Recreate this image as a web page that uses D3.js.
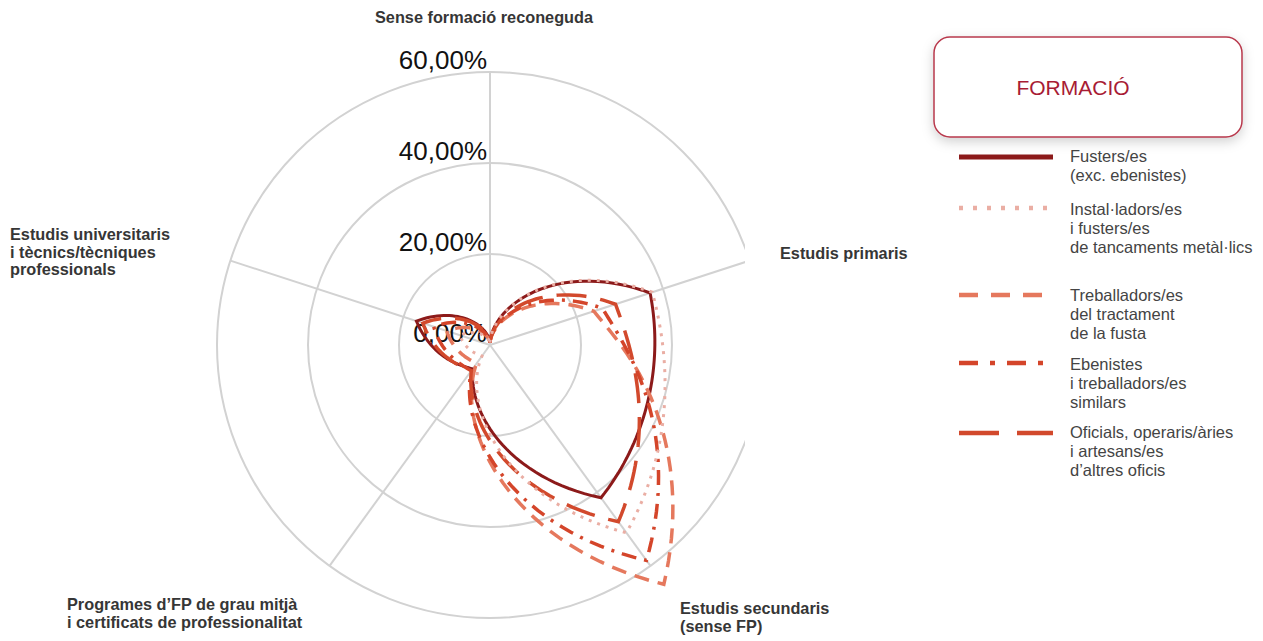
<!DOCTYPE html>
<html>
<head>
<meta charset="utf-8">
<script src="https://cdn.jsdelivr.net/npm/d3@7"></script>
<style>
  html, body { margin: 0; padding: 0; background: #fff; }
  svg { display: block; }
</style>
</head>
<body>
<svg id="chart" width="1263" height="641"></svg>
<script>
// ---- Data ----
const categories = [
  ["Sense formació reconeguda"],
  ["Estudis primaris"],
  ["Estudis secundaris", "(sense FP)"],
  ["Programes d’FP de grau mitjà", "i certificats de professionalitat"],
  ["Estudis universitaris", "i tècnics/tècniques", "professionals"]
];
const tickValues = [0, 20, 40, 60];
const tickLabels = ["0,00%", "20,00%", "40,00%", "60,00%"];

const seriesNames = [
  ["Fusters/es", "(exc. ebenistes)"],
  ["Instal·ladors/es", "i fusters/es", "de tancaments metàl·lics"],
  ["Treballadors/es", "del tractament", "de la fusta"],
  ["Ebenistes", "i treballadors/es", "similars"],
  ["Oficials, operaris/àries", "i artesans/es", "d’altres oficis"]
];
const fusters       = [0.5, 37, 41.5, 6.5, 17];
const installadors  = [0.5, 37.5, 51, 3, 7];
const treballadors  = [0.5, 24, 65, 5, 10];
const ebenistes     = [0.5, 26, 58.5, 7, 13];
const oficials      = [0.5, 29, 48, 7, 15.5];
const seriesValues = [fusters, installadors, treballadors, ebenistes, oficials];

// ---- Styles ----
const styles = [
  { color: "#8c1a1a", width: 3,   dash: null,         lw: 5,   ldash: null },
  { color: "#eaaea4", width: 3,   dash: "3,6",        lw: 4.5, ldash: "4,10" },
  { color: "#e5785d", width: 3.5, dash: "15,9",       lw: 4.5, ldash: "19,13" },
  { color: "#d4452a", width: 3.5, dash: "15,8,3,8",   lw: 4.5, ldash: "19,12,5,12" },
  { color: "#d2492c", width: 3.5, dash: "30,14",      lw: 4.5, ldash: "40,18" }
];

const svg = d3.select("#chart");
const cx = 490, cy = 345, R = 273;
const r = d3.scaleLinear().domain([0, 60]).range([0, R]);
const n = categories.length;
const step = 2 * Math.PI / n;

const defs = svg.append("defs");
defs.append("clipPath").attr("id", "gridClip")
  .append("rect").attr("x", -cx).attr("y", -cy).attr("width", 745).attr("height", 641);
const f = defs.append("filter").attr("id", "shadow")
  .attr("x", "-20%").attr("y", "-30%").attr("width", "140%").attr("height", "170%");
f.append("feDropShadow").attr("dx", 0).attr("dy", 4).attr("stdDeviation", 6)
  .attr("flood-color", "#000").attr("flood-opacity", 0.18);

svg.append("rect").attr("width", 1263).attr("height", 641).attr("fill", "#fff");

// ---- Grid ----
const grid = svg.append("g").attr("transform", `translate(${cx},${cy})`)
  .attr("clip-path", "url(#gridClip)");
grid.selectAll("circle").data(tickValues.filter(v => v > 0)).join("circle")
  .attr("r", d => r(d)).attr("fill", "none")
  .attr("stroke", "#d2d2d2").attr("stroke-width", 2);
grid.selectAll("line").data(categories).join("line")
  .attr("x1", 0).attr("y1", 0)
  .attr("x2", (d, i) => Math.sin(i * step) * r(60))
  .attr("y2", (d, i) => -Math.cos(i * step) * r(60))
  .attr("stroke", "#d2d2d2").attr("stroke-width", 2);

// ---- Tick labels ----
svg.append("g").selectAll("text").data(tickValues).join("text")
  .attr("x", cx - 3)
  .attr("y", d => cy - r(d) - 3)
  .attr("text-anchor", "end")
  .attr("font-family", "Liberation Sans, Arial, sans-serif")
  .attr("font-size", 26)
  .attr("fill", "#111")
  .text((d, i) => tickLabels[i]);

// ---- Category labels ----
const catPos = [
  { x: 484, y: 23, anchor: "middle" },
  { x: 780, y: 259, anchor: "start" },
  { x: 680, y: 614, anchor: "start" },
  { x: 67,  y: 610, anchor: "start" },
  { x: 10,  y: 240, anchor: "start" }
];
const catG = svg.append("g")
  .attr("font-family", "Liberation Sans, Arial, sans-serif")
  .attr("font-weight", "bold").attr("font-size", 16.3).attr("fill", "#363636");
categories.forEach((lines, i) => {
  const t = catG.append("text").attr("x", catPos[i].x).attr("y", catPos[i].y)
    .attr("text-anchor", catPos[i].anchor);
  lines.forEach((l, k) => {
    t.append("tspan").attr("x", catPos[i].x).attr("dy", k === 0 ? 0 : 17.5).text(l);
  });
});

// ---- Series curves (polar interpolation between axes) ----
function polarPoints(vals) {
  const pts = [];
  const N = 40;
  for (let i = 0; i < n; i++) {
    const j = (i + 1) % n;
    const v1 = vals[i], v2 = vals[j];
    const s = 0.6 * Math.abs(v2 - v1) + 0.2 * Math.min(v1, v2);
    for (let k = 0; k < N; k++) {
      const t = k / N;
      const v = Math.max(0, v1 + (v2 - v1) * t - s * t * (1 - t));
      pts.push([(i + t) * step, r(v)]);
    }
  }
  return pts;
}
const radial = d3.lineRadial().angle(d => d[0]).radius(d => d[1]).curve(d3.curveLinearClosed);
const plot = svg.append("g").attr("transform", `translate(${cx},${cy})`);
const drawOrder = [0, 2, 3, 4, 1];
drawOrder.forEach(idx => {
  const st = styles[idx];
  plot.append("path")
    .attr("d", radial(polarPoints(seriesValues[idx])))
    .attr("fill", "none")
    .attr("stroke", st.color)
    .attr("stroke-width", st.width)
    .attr("stroke-dasharray", st.dash)
    .attr("stroke-linejoin", "miter")
    .attr("stroke-linecap", "butt");
});

// ---- Legend ----
const leg = svg.append("g");
leg.append("rect").attr("x", 934).attr("y", 37).attr("width", 308).attr("height", 100)
  .attr("rx", 16).attr("fill", "#fff").attr("stroke", "#b8394c").attr("stroke-width", 1.5)
  .attr("filter", "url(#shadow)");
leg.append("text").attr("x", 1073).attr("y", 95).attr("text-anchor", "middle")
  .attr("font-family", "Liberation Sans, Arial, sans-serif").attr("font-size", 21)
  .attr("fill", "#a81c34").text("FORMACIÓ");

const legLineY = [157, 208, 295, 363, 433];
const legTextY = [162, 215, 301, 370, 438];
seriesNames.forEach((lines, i) => {
  const st = styles[i];
  leg.append("line").attr("x1", 959).attr("x2", 1053)
    .attr("y1", legLineY[i]).attr("y2", legLineY[i])
    .attr("stroke", st.color).attr("stroke-width", st.lw)
    .attr("stroke-dasharray", st.ldash);
  const t = leg.append("text").attr("x", 1070).attr("y", legTextY[i])
    .attr("font-family", "Liberation Sans, Arial, sans-serif")
    .attr("font-size", 16.5).attr("fill", "#444");
  lines.forEach((l, k) => {
    t.append("tspan").attr("x", 1070).attr("dy", k === 0 ? 0 : 19.2).text(l);
  });
});
</script>
</body>
</html>
